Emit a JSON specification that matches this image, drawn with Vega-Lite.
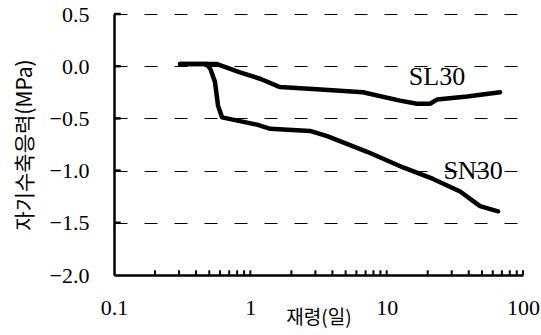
{
  "$schema": "https://vega.github.io/schema/vega-lite/v6.json",
  "width": 409,
  "height": 261,
  "autosize": "none",
  "padding": {"left": 114, "top": 14, "right": 18, "bottom": 60},
  "background": "white",
  "config": {"view": {"stroke": null}},
  "datasets": {
    "lines": [
      {"series": "SL30", "age": 0.305, "stress": 0.02},
      {"series": "SL30", "age": 0.57, "stress": 0.02},
      {"series": "SL30", "age": 0.84, "stress": -0.06},
      {"series": "SL30", "age": 1.18, "stress": -0.12},
      {"series": "SL30", "age": 1.65, "stress": -0.2},
      {"series": "SL30", "age": 3.08, "stress": -0.22},
      {"series": "SL30", "age": 6.7, "stress": -0.25},
      {"series": "SL30", "age": 12.5, "stress": -0.33},
      {"series": "SL30", "age": 16.7, "stress": -0.36},
      {"series": "SL30", "age": 20.8, "stress": -0.36},
      {"series": "SL30", "age": 23.4, "stress": -0.32},
      {"series": "SL30", "age": 38.9, "stress": -0.29},
      {"series": "SL30", "age": 67.9, "stress": -0.25},
      {"series": "SN30", "age": 0.305, "stress": 0.02},
      {"series": "SN30", "age": 0.48, "stress": 0.02},
      {"series": "SN30", "age": 0.51, "stress": -0.03},
      {"series": "SN30", "age": 0.55, "stress": -0.15},
      {"series": "SN30", "age": 0.58, "stress": -0.38},
      {"series": "SN30", "age": 0.62, "stress": -0.49},
      {"series": "SN30", "age": 1.12, "stress": -0.56},
      {"series": "SN30", "age": 1.4, "stress": -0.6},
      {"series": "SN30", "age": 2.74, "stress": -0.62},
      {"series": "SN30", "age": 3.66, "stress": -0.67},
      {"series": "SN30", "age": 7.2, "stress": -0.82},
      {"series": "SN30", "age": 13.2, "stress": -0.97},
      {"series": "SN30", "age": 21.9, "stress": -1.08},
      {"series": "SN30", "age": 34.6, "stress": -1.2},
      {"series": "SN30", "age": 48.4, "stress": -1.34},
      {"series": "SN30", "age": 65.6, "stress": -1.39}
    ],
    "labels": [
      {"series": "SL30", "age": 23.4, "stress": -0.1},
      {"series": "SN30", "age": 43, "stress": -1.0}
    ],
    "xticks": [
      {"v": 0.2}, {"v": 0.3}, {"v": 0.4}, {"v": 0.5}, {"v": 0.6}, {"v": 0.7}, {"v": 0.8}, {"v": 0.9}, {"v": 1},
      {"v": 2}, {"v": 3}, {"v": 4}, {"v": 5}, {"v": 6}, {"v": 7}, {"v": 8}, {"v": 9}, {"v": 10},
      {"v": 20}, {"v": 30}, {"v": 40}, {"v": 50}, {"v": 60}, {"v": 70}, {"v": 80}, {"v": 90}, {"v": 100}
    ],
    "yticks": [
      {"v": 0.5}, {"v": 0}, {"v": -0.5}, {"v": -1}, {"v": -1.5}
    ]
  },
  "layer": [
    {
      "data": {"name": "lines"},
      "mark": {"type": "line", "color": "black", "strokeWidth": 4.5, "strokeJoin": "round", "strokeCap": "round"},
      "encoding": {
        "x": {
          "field": "age", "type": "quantitative",
          "scale": {"type": "log", "domain": [0.1, 100], "nice": false},
          "axis": {
            "title": "재령(일)",
            "titleFont": "Noto Sans CJK KR", "titleFontSize": 19, "titleFontWeight": "normal", "titleColor": "black",
            "titlePadding": -10,
            "values": [0.1, 1, 10, 100],
            "labelFont": "Liberation Serif", "labelFontSize": 22, "labelColor": "black",
            "labelPadding": 22, "labelFlush": false, "labelOverlap": false,
            "ticks": false,
            "domainColor": "black", "domainWidth": 2.5,
            "grid": false
          }
        },
        "y": {
          "field": "stress", "type": "quantitative",
          "scale": {"domain": [-2, 0.5], "nice": false, "zero": false},
          "axis": {
            "title": "자기수축응력(MPa)",
            "titleFont": "Noto Sans CJK KR", "titleFontSize": 21, "titleFontWeight": "normal", "titleColor": "black",
            "titlePadding": 14,
            "values": [-2, -1.5, -1, -0.5, 0, 0.5],
            "format": ".1f",
            "labelFont": "Liberation Serif", "labelFontSize": 22, "labelColor": "black",
            "labelPadding": 25, "labelFlush": false,
            "ticks": false,
            "domainColor": "black", "domainWidth": 2.5,
            "grid": true, "gridColor": "black", "gridWidth": 1, "gridDash": [13, 17]
          }
        },
        "detail": {"field": "series"}
      }
    },
    {
      "data": {"name": "xticks"},
      "mark": {"type": "rule", "color": "black", "strokeWidth": 2},
      "encoding": {
        "x": {"field": "v", "type": "quantitative"},
        "y": {"datum": -2},
        "y2": {"datum": -1.955}
      }
    },
    {
      "data": {"name": "yticks"},
      "mark": {"type": "rule", "color": "black", "strokeWidth": 2.5},
      "encoding": {
        "y": {"field": "v", "type": "quantitative"},
        "x": {"datum": 0.1},
        "x2": {"datum": 0.112}
      }
    },
    {
      "data": {"name": "labels"},
      "mark": {"type": "text", "font": "Liberation Serif", "fontSize": 26, "color": "black"},
      "encoding": {
        "x": {"field": "age", "type": "quantitative"},
        "y": {"field": "stress", "type": "quantitative"},
        "text": {"field": "series"}
      }
    }
  ]
}
